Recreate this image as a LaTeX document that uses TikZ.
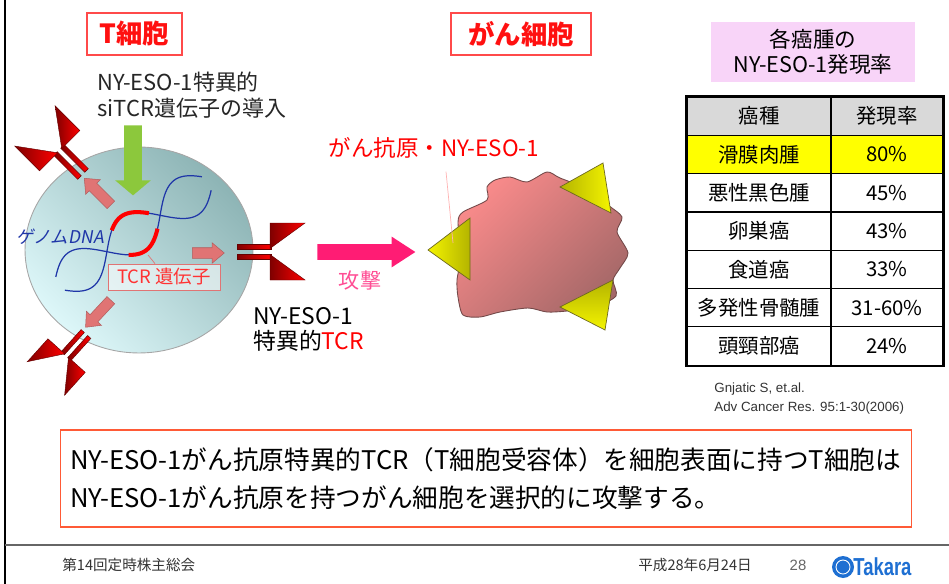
\documentclass[tikz,border=0pt]{standalone}
\usepackage{fontspec}
\setmainfont{Noto Sans CJK JP}
\newfontfamily\refsans{Liberation Sans}
\newfontfamily\slantjp[FakeSlant=0.18]{Noto Sans CJK JP}
\usetikzlibrary{shapes.arrows,shapes.geometric}

\newcommand\ptfont[2]{\fontsize{#1}{#2}\selectfont}

\definecolor{titlered}{HTML}{FF1010}
\definecolor{boxred}{HTML}{FF4A4A}
\definecolor{leafgreen}{HTML}{8CC83C}
\definecolor{salmon}{HTML}{E07474}
\definecolor{cellhi}{HTML}{DDF7F9}
\definecolor{cello}{HTML}{8DB4B5}
\definecolor{dnablue}{HTML}{1F36A8}
\definecolor{attack}{HTML}{FF1C74}
\definecolor{attacktxt}{HTML}{FF4D94}
\definecolor{tumorhi}{HTML}{F88A8A}
\definecolor{tumorlo}{HTML}{A56868}
\definecolor{antigen}{HTML}{F4F400}
\definecolor{antigenlo}{HTML}{B4B400}
\definecolor{headpink}{HTML}{F8D4F8}
\definecolor{headgray}{HTML}{D9D9D9}
\definecolor{rowyellow}{HTML}{FFFF00}
\definecolor{noteframe}{HTML}{FF5A36}
\definecolor{logoblue}{HTML}{1E6FD2}

\tikzset{
  titlebox/.style={draw=boxred, line width=0.6pt, minimum height=8.4mm, inner sep=0pt,
    text=titlered, font=\ptfont{15}{17}\bfseries},
  blockarrow/.style={single arrow, inner xsep=0pt, single arrow head indent=0pt, anchor=tail},
  salmonarrow/.style={blockarrow, fill=salmon, draw=salmon!80!black, line width=0.3pt,
    inner ysep=1mm, single arrow head extend=1mm, single arrow tip angle=80, minimum height=#1},
  receptor/.style={left color=red!50!black, middle color=red, right color=red, draw=red!40!black, line width=0.25pt},
  strand/.style={dnablue, line width=0.7pt},
  genepart/.style={red, line width=2.3pt},
  epitope/.style={draw=olive!70!black, line width=0.4pt},
  tablecell/.style={draw, line width=0.7pt, minimum height=7.66mm, inner sep=0pt, font=\ptfont{11.6}{13}},
  leader/.style={line width=0.4pt},
  tcr/.pic={
    \path[receptor] (0,-7.5) rectangle (34,-2.5);
    \path[receptor] (0,2.5) rectangle (34,7.5);
    \path[receptor] (33,-28.5) -- (68,-28.5) -- (33,-3) -- cycle;
    \path[receptor] (33,3) -- (68,28.5) -- (33,28.5) -- cycle;
  }
}

\begin{document}
\begin{tikzpicture}[x=0.02cm, y=-0.02cm]
\useasboundingbox (0,0) rectangle (949,584);
% slide frame
\draw[line width=1.4pt] (5,0) -- (5,584);
\draw[line width=1pt, black!60] (5,545) -- (949,545);

% T cell with its genome
\node[ellipse, draw=black!35, line width=0.5pt, minimum width=45.6mm, minimum height=41.2mm, inner sep=0pt,
  top color=cello, bottom color=cellhi, shading angle=-45] (tcell) at (139,250) {};
\draw[strand] plot[domain=-0.05:1.05, samples=70, smooth]
  ({67+133*\x+11.87*cos(450*(\x-0.5))},{279-91*\x+17.35*cos(450*(\x-0.5))});
\draw[strand] plot[domain=-0.05:1.05, samples=70, smooth]
  ({67+133*\x-11.87*cos(450*(\x-0.5))},{279-91*\x-17.35*cos(450*(\x-0.5))});
\draw[genepart] plot[domain=0.40:0.65, samples=20, smooth]
  ({67+133*\x-11.87*cos(450*(\x-0.5))},{279-91*\x-17.35*cos(450*(\x-0.5))});
\draw[genepart] plot[domain=0.40:0.64, samples=20, smooth]
  ({67+133*\x+11.87*cos(450*(\x-0.5))},{279-91*\x+17.35*cos(450*(\x-0.5))});
\coordinate (genetip) at (148,255);

\node[text=dnablue, font=\slantjp\ptfont{10}{12}, inner sep=0pt] (genome) at (60,237) {ゲノムDNA};
\node[draw=salmon, fill=white, fill opacity=0.55, text opacity=1, text=red!80!white,
  minimum width=22.4mm, minimum height=5.2mm, inner sep=0pt, font=\ptfont{10.5}{12}] (genebox) at (164,277) {TCR 遺伝子};
\draw[leader, salmon] (genetip) -- ([xshift=-1.8mm]genebox.north);

% receptors on the surface
\pic at (237,251.5) {tcr};
\pic[rotate=135] at (83,174) {tcr};
\pic[rotate=228, scale=0.88] at (86,334) {tcr};

\node[salmonarrow=7.5mm, rotate=135] (outUL) at (111,205) {};
\node[salmonarrow=6.4mm] (outR) at (192,253) {};
\node[salmonarrow=7.4mm, rotate=-133] (outLL) at (111,300) {};

\node[blockarrow, fill=leafgreen, inner ysep=1.7mm, single arrow head extend=1.8mm,
  single arrow tip angle=100, minimum height=14mm, rotate=-90] (inject) at (133,125) {};

% labels
\node[titlebox, minimum width=19mm] (tlabel) at (134.5,34) {T細胞};
\node[titlebox, minimum width=28mm] (clabel) at (521,34) {がん細胞};
\node[anchor=west, align=left, text=black!85, font=\ptfont{12.5}{14.8}, inner sep=0pt] (transfer) at (97,95)
  {NY-ESO-1特異的\\siTCR遺伝子の導入};
\node[anchor=west, align=left, font=\ptfont{13}{14.2}, inner sep=0pt] (tcrlabel) at (253,329)
  {NY-ESO-1\\特異的\textcolor{red}{TCR}};

% attack
\node[blockarrow, fill=attack, inner ysep=1.5mm, single arrow head extend=1.5mm,
  single arrow tip angle=66, minimum height=19.6mm] (attackarrow) at (317,252) {};
\node[text=attacktxt, font=\ptfont{12}{13}] (attacklabel) at (360,280) {攻撃};

% cancer cell
\path[draw=tumorlo!70!black, line width=0.5pt, top color=tumorhi, bottom color=tumorlo, shading angle=45]
  plot[smooth cycle, tension=0.45] coordinates {(487,187) (495,180) (510,177) (527,182) (547,172) (560,178)
  (590,190) (608,205) (622,217) (617,232) (628,253) (620,268) (613,280) (616,296) (595,307) (567,311)
  (547,312) (528,308) (500,312) (480,317) (463,315) (458,297) (457,280) (461,255) (458,222) (463,212) (487,200)};
\path[epitope, left color=antigen, right color=antigenlo] (428,250) -- (470,218) -- (470,280) -- cycle;
\path[epitope, left color=antigenlo, right color=antigen] (560,187) -- (603,163) -- (611,213) -- cycle;
\path[epitope, top color=antigenlo, bottom color=antigen] (560,307) -- (613,280) -- (605,330) -- cycle;
\coordinate (epitopetip) at (453,243);

\node[text=red, font=\ptfont{12.8}{14}] (antigenlabel) at (434,148) {がん抗原・NY-ESO-1};
\draw[leader, red!30] ([shift={(12,7)}]antigenlabel.south) -- (epitopetip);

% expression table
\node[fill=headpink, minimum width=40.8mm, minimum height=12.2mm, align=center, font=\ptfont{12.3}{14.2}] (ratehead)
  at (813,52) {各癌腫の\\NY-ESO-1発現率};
\foreach \name/\rate [count=\i from 0] in {癌種/発現率, 滑膜肉腫/80\%, 悪性黒色腫/45\%, 卵巣癌/43\%,
    食道癌/33\%, 多発性骨髄腫/31-60\%, 頭頸部癌/24\%}{
  \pgfmathsetmacro\rowy{116.2+38.3*\i}
  \ifnum\i=0 \def\rowfill{headgray}\else\ifnum\i=1 \def\rowfill{rowyellow}\else\def\rowfill{white}\fi\fi
  \node[tablecell, minimum width=28.8mm, fill=\rowfill] (type\i) at (759,\rowy) {\name};
  \node[tablecell, minimum width=22.4mm, fill=\rowfill] (rate\i) at (887,\rowy) {\rate};
}
\draw[line width=1.2pt] (type0.north west) rectangle (rate6.south east);
\node[anchor=west, align=left, font=\refsans\ptfont{7.6}{10.8}, text=black!80, inner sep=0pt] (citation)
  at (714,399) {Gnjatic S, et.al.\\Adv Cancer Res. 95:1-30(2006)};

% summary
\node[draw=noteframe, line width=0.6pt, minimum width=170.4mm, minimum height=19.4mm, text width=166.4mm,
  inner xsep=2mm, align=left, font=\ptfont{14.6}{21.5}] (summary) at (486,478.5)
  {NY-ESO-1がん抗原特異的TCR（T細胞受容体）を細胞表面に持つT細胞は\\NY-ESO-1がん抗原を持つがん細胞を選択的に攻撃する。};

% footer
\node[anchor=west, font=\ptfont{8.3}{10}, text=black!80, inner sep=0pt] (meeting) at (62,565) {第14回定時株主総会};
\node[anchor=west, font=\ptfont{8.3}{10}, text=black!80, inner sep=0pt] (date) at (638,565) {平成28年6月24日};
\node[font=\refsans\ptfont{8.5}{10}, text=black!60] (pageno) at (798,565) {28};
\node[circle, fill=logoblue, minimum size=4.4mm, inner sep=0pt] (logoseal) at (843,567) {};
\draw[white, line width=0.5pt] (logoseal.center) circle[radius=7];
\node[anchor=west, inner sep=0pt, text=logoblue, font=\refsans\bfseries\ptfont{14}{14}] (logotext)
  at (853,567) {\scalebox{0.75}[1]{Takara}};
\end{tikzpicture}
\end{document}
